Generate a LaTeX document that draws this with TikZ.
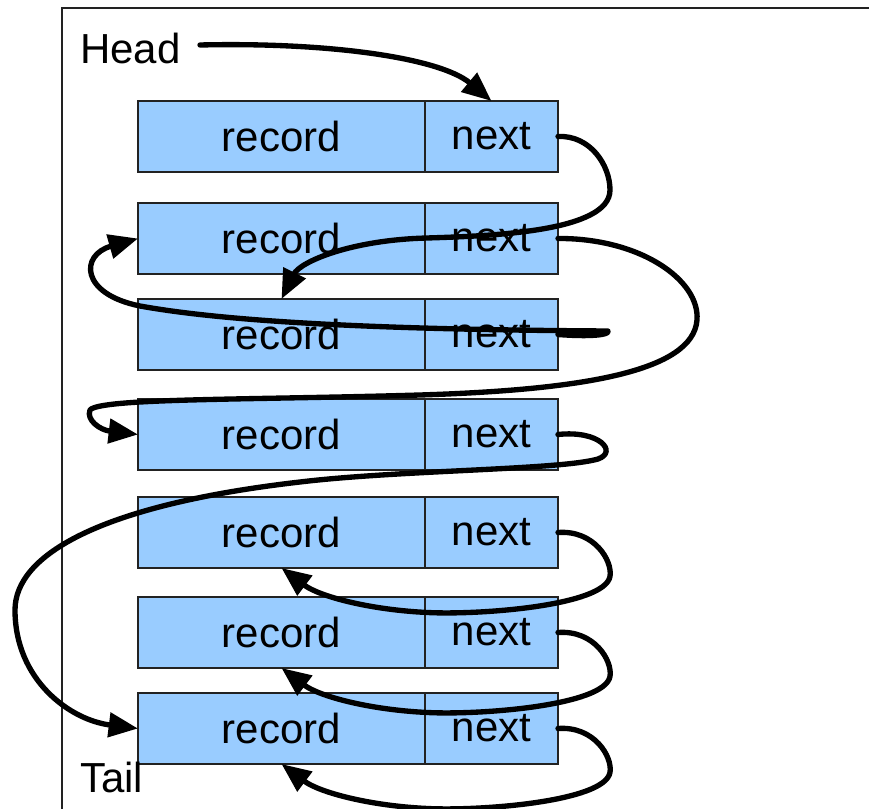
\documentclass[tikz,border=0pt]{standalone}
\usepackage{fontspec}
\setmainfont{Liberation Sans}
\usetikzlibrary{arrows.meta}
\definecolor{cellblue}{HTML}{99CCFF}
\definecolor{edgegray}{HTML}{222222}
\tikzset{
  cell/.style={draw=edgegray, line width=1.1pt, fill=cellblue, inner sep=0pt, outer sep=0pt,
    minimum height=53.25pt, font=\fontsize{31.5}{36}\selectfont},
  reccell/.style={cell, minimum width=215.25pt},
  nxtcell/.style={cell, minimum width=99.75pt},
  lbl/.style={inner sep=0pt, font=\fontsize{31.5}{36}\selectfont},
  link/.style={line width=4pt, line cap=round, line join=round,
    -{Triangle[length=22pt,width=18pt]}},
  frame/.style={line width=1.1pt, draw=edgegray}
}
\begin{document}
\begin{tikzpicture}[x=0.75pt,y=-0.75pt]
\useasboundingbox (0,0) rectangle (869,809);
\clip (0,0) rectangle (869,809);
\draw[frame] (62,815) -- (62,8) -- (875,8);
\foreach \i/\t in {1/101,2/203,3/299,4/399,5/497,6/597,7/693}{
  \node[reccell] (rec\i) at (281.5,\t+35.5) {\raisebox{-2.5pt}{record}};
  \node[nxtcell] (nxt\i) at (491.5,\t+35.5) {\raisebox{-2.5pt}{next}};
}
\node[lbl, anchor=west] (head) at (80,48) {Head};
\node[lbl, anchor=west] (tail) at (80,777) {Tail};
\coordinate (hs) at (200,45);
% Head -> first
\draw[link] (hs) .. controls (330,42) and (440,58) .. (nxt1.north);
% row1 -> row3
\draw[link] (nxt1.east) .. controls (590,135) and (610,165) .. (610,190)
  .. controls (610,232) and (490,236) .. (427,238)
  .. controls (350,240) and (300,262) .. (rec3.north);
% row2 -> row4
\draw[link] (nxt2.east) .. controls (640,238) and (700,280) .. (697,320)
  .. controls (693,372) and (580,390) .. (420,395)
  .. controls (250,400) and (100,398) .. (90,410)
  .. controls (86,420) and (100,430) .. (rec4.west);
% row3 -> row2
\draw[link] (nxt3.east) .. controls (590,337) and (610,335) .. (608,331)
  .. controls (450,330) and (250,326) .. (140,306)
  .. controls (80,294) and (80,255) .. (rec2.west);
% row4 -> row7
\draw[link] (nxt4.east) .. controls (600,430) and (618,452) .. (598,459)
  .. controls (560,470) and (400,470) .. (300,482)
  .. controls (100,505) and (15,555) .. (15,610)
  .. controls (15,680) and (70,720) .. (rec7.west);
% loops rows 5,6,7
\foreach \i in {5,6,7}{
  \draw[link] (nxt\i.east) .. controls ([xshift=27pt,yshift=2pt]nxt\i.east) and ([xshift=41pt,yshift=-21pt]nxt\i.east) .. ([xshift=39pt,yshift=-33pt]nxt\i.east)
    .. controls ([xshift=35pt,yshift=-55pt]nxt\i.east) and ([xshift=-59pt,yshift=-62pt]nxt\i.east) .. ([xshift=-98pt,yshift=-60pt]nxt\i.east)
    .. controls ([xshift=-141pt,yshift=-58pt]nxt\i.east) and ([xshift=-179pt,yshift=-48pt]nxt\i.east) .. (rec\i.south);
}
\end{tikzpicture}
\end{document}
